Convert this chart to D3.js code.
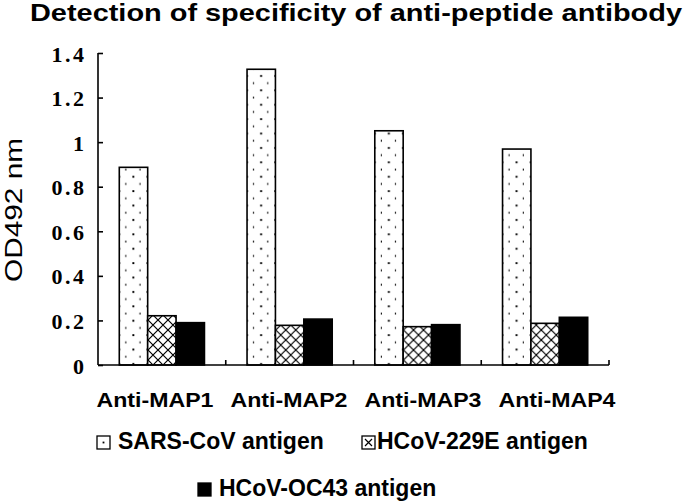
<!DOCTYPE html>
<meta charset="utf-8">
<style>
  body { margin: 0; background: #fff; }
</style>
<script src="https://d3js.org/d3.v7.min.js"></script>

<div id="div_chart"></div>

<script>

// data
var categories = ["Anti-MAP1", "Anti-MAP2", "Anti-MAP3", "Anti-MAP4"];
var seriesNames = ["SARS-CoV antigen", "HCoV-229E antigen", "HCoV-OC43 antigen"];
var sarsValues = [0.887, 1.327, 1.051, 0.969];
var hcov229eValues = [0.221, 0.178, 0.172, 0.187];
var hcovOC43Values = [0.190, 0.206, 0.181, 0.214];
var yTickValues = [0, 0.2, 0.4, 0.6, 0.8, 1, 1.2, 1.4];

var allValues = [sarsValues, hcov229eValues, hcovOC43Values];

var svg = d3.select("#div_chart")
  .append("svg")
    .attr("width", 689)
    .attr("height", 501),
  width = +svg.attr("width"),
  height = +svg.attr("height");

// patterns: dots, crosshatch
var defs = svg.append("defs");
var dots = defs.append("pattern")
  .attr("id", "dots")
  .attr("patternUnits", "userSpaceOnUse")
  .attr("width", 14.2).attr("height", 14.4)
dots.append("rect").attr("width", 14.2).attr("height", 14.4).attr("fill", "white")
dots.append("rect").attr("x", 6).attr("y", 3).attr("width", 1.9).attr("height", 1.9).attr("fill", "black")
dots.append("rect").attr("x", 13.1).attr("y", 10.2).attr("width", 1.9).attr("height", 1.9).attr("fill", "black")

var hatch = defs.append("pattern")
  .attr("id", "hatch")
  .attr("patternUnits", "userSpaceOnUse")
  .attr("width", 10).attr("height", 10)
hatch.append("rect").attr("width", 10).attr("height", 10).attr("fill", "white")
hatch.append("path")
  .attr("d", "M0,0L10,10M10,0L0,10M-1,1L1,-1M9,11L11,9")
  .attr("stroke", "black").attr("stroke-width", 1.2)

var fills = ["url(#dots)", "url(#hatch)", "black"];

// scales
var x = d3.scaleBand()
  .domain(categories)
  .range([98, 609])
  .padding(0)
var xSub = d3.scaleBand()
  .domain(seriesNames)
  .range([0, x.bandwidth()])
  .paddingInner(0)
  .paddingOuter(0.75)
var y = d3.scaleLinear()
  .domain([0, 1.4])
  .range([365, 53])

// bars
var groups = svg.append("g")
  .selectAll("g")
  .data(categories)
  .enter()
  .append("g")
    .attr("transform", function(d){ return "translate(" + x(d) + ",0)" })

groups.selectAll("rect")
  .data(function(d, i){ return seriesNames.map(function(s, j){ return {s: s, j: j, v: allValues[j][i]} }) })
  .enter()
  .append("rect")
    .attr("x", function(d){ return xSub(d.s) })
    .attr("y", function(d){ return y(d.v) })
    .attr("width", xSub.bandwidth())
    .attr("height", function(d){ return y(0) - y(d.v) })
    .attr("fill", function(d){ return fills[d.j] })
    .attr("stroke", "black")
    .attr("stroke-width", 1.6)

// y axis, ticks pointing inside
var yAxis = svg.append("g")
  .attr("transform", "translate(98,0)")
  .call(d3.axisRight(y).tickValues(yTickValues).tickSize(5).tickFormat(""))
yAxis.select(".domain").attr("d", "M0," + y(1.4) + "V" + y(0)).attr("stroke-width", 1.6)
yAxis.selectAll(".tick line").attr("stroke-width", 1.6)

svg.append("g")
  .selectAll("text")
  .data(yTickValues)
  .enter()
  .append("text")
    .attr("x", 84)
    .attr("y", function(d){ return y(d) + 8.5 })
    .attr("text-anchor", "end")
    .style("font-family", "'Liberation Serif', 'Times New Roman', serif")
    .style("font-weight", "bold")
    .style("font-size", "22px")
    .text(function(d){ return d3.format("")(d) })
    .each(function(){ this.setAttribute("textLength", this.getComputedTextLength() * 1.18) })

// x axis with ticks between categories
svg.append("line")
  .attr("x1", 98).attr("x2", 609)
  .attr("y1", y(0)).attr("y2", y(0))
  .attr("stroke", "black").attr("stroke-width", 1.6)
svg.append("g")
  .selectAll("line")
  .data(categories)
  .enter()
  .append("line")
    .attr("x1", function(d){ return x(d) + x.bandwidth() })
    .attr("x2", function(d){ return x(d) + x.bandwidth() })
    .attr("y1", y(0)).attr("y2", y(0) - 5)
    .attr("stroke", "black").attr("stroke-width", 1.6)

// category labels
var xLabel = d3.scalePoint().domain(categories).range([155, 557])
svg.append("g")
  .selectAll("text")
  .data(categories)
  .enter()
  .append("text")
    .attr("x", function(d){ return xLabel(d) - 58.5 })
    .attr("y", 407)
    .attr("textLength", 117)
    .attr("lengthAdjust", "spacingAndGlyphs")
    .style("font-family", "'Liberation Sans', Arial, sans-serif")
    .style("font-weight", "bold")
    .style("font-size", "21px")
    .text(function(d){ return d })

// title
svg.append("text")
  .attr("x", 30)
  .attr("y", 21)
  .attr("textLength", 652)
  .attr("lengthAdjust", "spacingAndGlyphs")
  .style("font-family", "'Liberation Sans', Arial, sans-serif")
  .style("font-weight", "bold")
  .style("font-size", "23px")
  .text("Detection of specificity of anti-peptide antibody")

// y axis title
svg.append("text")
  .attr("transform", "translate(22,210) rotate(-90)")
  .attr("x", -72)
  .attr("y", 0)
  .attr("textLength", 144)
  .attr("lengthAdjust", "spacingAndGlyphs")
  .style("font-family", "'Liberation Sans', Arial, sans-serif")
  .style("font-size", "23px")
  .text("OD492 nm")

// legend
var legendPos = [[97, 436], [362, 436], [198, 483]];
var legend = svg.append("g")
  .selectAll("g")
  .data(seriesNames)
  .enter()
  .append("g")
    .attr("transform", function(d, i){ return "translate(" + legendPos[i][0] + "," + legendPos[i][1] + ")" })

legend.append("rect")
  .attr("width", 13).attr("height", 13)
  .attr("fill", "white")
  .attr("stroke", "black").attr("stroke-width", 1.3)
legend.filter(function(d, i){ return i == 0 }).append("rect")
  .attr("x", 5.6).attr("y", 5.6).attr("width", 1.8).attr("height", 1.8).attr("fill", "black")
legend.filter(function(d, i){ return i == 1 }).append("path")
  .attr("d", "M3,3L10,10M10,3L3,10")
  .attr("stroke", "black").attr("stroke-width", 1.2)
legend.filter(function(d, i){ return i == 2 }).select("rect")
  .attr("fill", "black")

legend.append("text")
  .attr("x", function(d, i){ return i == 1 ? 15 : 21 })
  .attr("y", 12.5)
  .style("font-family", "'Liberation Sans', Arial, sans-serif")
  .style("font-weight", "bold")
  .style("font-size", "23px")
  .text(function(d){ return d })

</script>
